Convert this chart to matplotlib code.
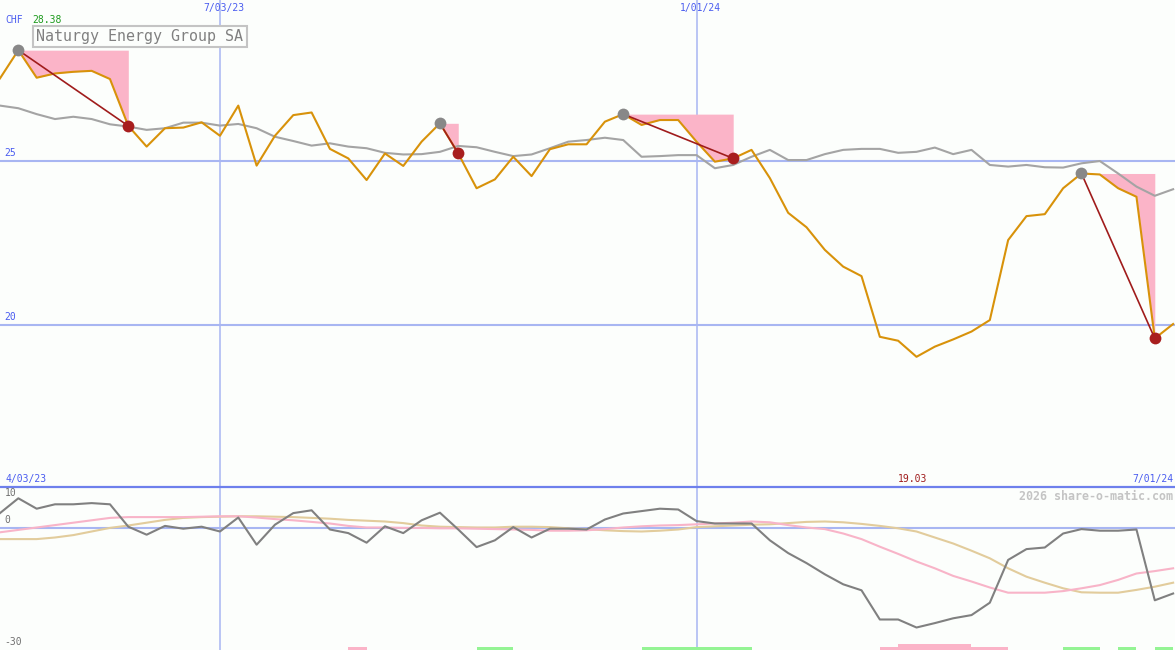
import numpy as np
import matplotlib
matplotlib.use('Agg')
import matplotlib.pyplot as plt
from matplotlib.transforms import blended_transform_factory

# weekly closes (CHF) and moving average
price = [27.52, 28.38, 27.54, 27.67, 27.72, 27.75, 27.50, 26.07, 25.44, 26.00,
         26.02, 26.18, 25.77, 26.69, 24.86, 25.77, 26.40, 26.48, 25.37, 25.08,
         24.42, 25.23, 24.85, 25.59, 26.15, 25.23, 24.17, 24.44, 25.13, 24.54,
         25.36, 25.51, 25.51, 26.20, 26.43, 26.10, 26.25, 26.25, 25.59, 24.98,
         25.08, 25.34, 24.48, 23.42, 22.98, 22.29, 21.78, 21.49, 19.64, 19.52,
         19.03, 19.34, 19.56, 19.80, 20.15, 22.59, 23.32, 23.38, 24.17, 24.62,
         24.59, 24.17, 23.91, 19.59, 20.03]
avg = [26.69, 26.61, 26.43, 26.28, 26.35, 26.28, 26.12, 26.05, 25.95, 26.00,
       26.17, 26.17, 26.08, 26.13, 26.00, 25.74, 25.61, 25.47, 25.54, 25.44,
       25.39, 25.25, 25.20, 25.21, 25.28, 25.46, 25.42, 25.28, 25.15, 25.20,
       25.39, 25.59, 25.64, 25.71, 25.64, 25.13, 25.15, 25.18, 25.18, 24.78,
       24.88, 25.13, 25.34, 25.03, 25.03, 25.21, 25.34, 25.37, 25.37, 25.25,
       25.28, 25.41, 25.21, 25.34, 24.88, 24.83, 24.88, 24.81, 24.80, 24.93,
       25.00, 24.62, 24.22, 23.94, 24.14]

# lower panel oscillators
momentum = [3.6, 7.3, 4.7, 5.8, 5.8, 6.1, 5.8, 0.2, -1.8, 0.4,
            -0.3, 0.2, -1.0, 2.5, -4.3, 0.7, 3.6, 4.3, -0.5, -1.4,
            -3.8, 0.3, -1.4, 1.8, 3.7, -0.5, -4.9, -3.2, 0.1, -2.5,
            -0.3, -0.3, -0.5, 2.0, 3.5, 4.1, 4.7, 4.5, 1.6, 1.0,
            1.0, 1.0, -3.2, -6.4, -8.9, -11.7, -14.2, -15.7, -23.0, -23.0,
            -25.0, -23.9, -22.7, -21.9, -18.8, -8.1, -5.4, -5.0, -1.5, -0.4,
            -0.8, -0.8, -0.5, -18.2, -16.5]
osc_pink = [-1.2, -0.6, 0.0, 0.6, 1.2, 1.8, 2.4, 2.6, 2.6, 2.6,
            2.6, 2.7, 2.8, 2.8, 2.5, 2.1, 1.8, 1.4, 1.0, 0.4,
            0.0, 0.0, -0.1, -0.1, -0.2, -0.2, -0.3, -0.4, -0.5, -0.6,
            -0.8, -0.8, -0.7, -0.4, 0.0, 0.3, 0.5, 0.6, 0.8, 1.0,
            1.2, 1.5, 1.3, 0.6, 0.0, -0.4, -1.5, -2.9, -4.8, -6.6,
            -8.5, -10.2, -12.1, -13.5, -15.0, -16.3, -16.3, -16.3, -15.9, -15.2,
            -14.4, -13.1, -11.5, -10.9, -10.2]
osc_tan = [-2.9, -2.9, -2.9, -2.5, -1.9, -1.0, -0.1, 0.5, 1.2, 1.9,
           2.4, 2.6, 2.7, 2.8, 2.8, 2.7, 2.6, 2.4, 2.2, 1.9,
           1.7, 1.5, 1.1, 0.5, 0.2, 0.1, 0.0, 0.0, 0.2, 0.2,
           0.1, -0.2, -0.4, -0.7, -0.9, -1.0, -0.8, -0.5, 0.1, 0.3,
           0.5, 0.7, 0.8, 1.1, 1.4, 1.5, 1.3, 0.9, 0.4, -0.2,
           -1.0, -2.5, -4.0, -5.8, -7.7, -10.2, -12.3, -13.8, -15.2, -16.2,
           -16.3, -16.3, -15.6, -14.8, -13.8]

# drawdown episodes (week index of peak and of trough)
peak_idx = [1, 24, 34, 59]
trough_idx = [7, 25, 40, 63]

# signal strip: +1 buy, -1 / -2 sell
signal_weeks = [19, 26, 27, 35, 36, 37, 38, 39, 40, 48, 49, 50, 51, 52, 53, 54,
                58, 59, 61, 63]
signal_values = [-1, 1, 1, 1, 1, 1, 1, 1, 1, -1, -2, -2, -2, -2, -1, -1,
                 1, 1, 1, 1]

date_weeks = [12, 38]
date_labels = ['7/03/23', '1/01/24']
start_label = '4/03/23'
end_label = '7/01/24'
title = 'Naturgy Energy Group SA'
currency = 'CHF'

bg = '#fcfefc'
grid_c = '#a8b6f2'
blue_txt = '#4a5cf0'
mono = 'DejaVu Sans Mono'
plt.rcParams['font.family'] = mono

W, H = 1175, 650
top_h = 487
fig = plt.figure(figsize=(W / 100, H / 100), dpi=100, facecolor=bg)
ax = fig.add_axes([0, 1 - top_h / H, 1, top_h / H], facecolor=bg)
ax2 = fig.add_axes([0, 0, 1, 1 - top_h / H], facecolor=bg)

x = np.arange(len(price))
xmax = W / 18.33
p = np.array(price)

for a in (ax, ax2):
    a.set_xlim(0, xmax)
    a.set_xticks([])
    a.set_yticks([])
    for s in a.spines.values():
        s.set_visible(False)
    for w in date_weeks:
        a.axvline(w, color=grid_c, lw=1.1, zorder=1)

# --- top panel
ax.set_ylim(15.06, 29.91)
for lvl in (25, 20):
    ax.axhline(lvl, color=grid_c, lw=1.5, zorder=1)
    ax.text(0.004, lvl + 0.08, str(lvl), transform=blended_transform_factory(ax.transAxes, ax.transData),
            color=blue_txt, fontsize=7, va='bottom', ha='left')

for pk, tr in zip(peak_idx, trough_idx):
    ax.fill_between(x[pk:tr + 1], p[pk:tr + 1], p[pk], color='#fbb4c8', lw=0, zorder=2)

ax.plot(x, avg, color='#a4a4a4', lw=1.5, zorder=3)
ax.plot(x, price, color='#d8920a', lw=1.5, zorder=4)

for pk, tr in zip(peak_idx, trough_idx):
    ax.plot([pk, tr], [p[pk], p[tr]], color='#a01c1c', lw=1.2, zorder=5)
    ax.plot(pk, p[pk], 'o', color='#888888', ms=8.5, mew=0, zorder=6)
    ax.plot(tr, p[tr], 'o', color='#a81e1e', ms=8.5, mew=0, zorder=6)

tr_top = blended_transform_factory(ax.transData, ax.transAxes)
for w, lab in zip(date_weeks, date_labels):
    ax.text(w + 0.2, 1 - 8 / top_h, lab, transform=tr_top, color=blue_txt,
            fontsize=7, ha='center', va='center')

fig.text(5 / W, 1 - 20 / H, currency, color=blue_txt, fontsize=7, ha='left', va='center')
fig.text(32 / W, 1 - 20 / H, f'{p.max():.2f}', color='#1c9a1c', fontsize=7, ha='left', va='center')
fig.text(140 / W, 1 - 36.5 / H, title, color='#808080', fontsize=10.8, ha='center', va='center',
         bbox=dict(boxstyle='square,pad=0.22', facecolor=bg, edgecolor='#c4c4c4', lw=1.5))

# --- bottom panel
ax2.set_ylim(-30.625, 10.125)
ax2.axhline(0, color=grid_c, lw=1.5, zorder=1)
ax2.spines['top'].set_visible(True)
ax2.spines['top'].set_color('#6e80ec')
ax2.spines['top'].set_linewidth(1.6)

ax2.plot(x, osc_tan, color='#e2cc9c', lw=1.5, zorder=2)
ax2.plot(x, osc_pink, color='#f8b4c8', lw=1.5, zorder=3)
ax2.plot(x, momentum, color='#808080', lw=1.5, zorder=4)

sig = np.array(signal_values)
ax2.bar(signal_weeks, np.abs(sig) * 0.75, bottom=-30.625, width=1, align='edge',
        color=np.where(sig > 0, '#94f494', '#fbb4c8'), lw=0, zorder=2)

tr_low = blended_transform_factory(ax2.transAxes, ax2.transData)
ax2.text(0.004, 10, '10', transform=tr_low, color='#707070', fontsize=7, va='top')
ax2.text(0.004, 0.6, '0', transform=tr_low, color='#707070', fontsize=7, va='bottom')
ax2.text(0.004, -29.8, '-30', transform=tr_low, color='#707070', fontsize=7, va='bottom')

fig.text(5 / W, 1 - 479 / H, start_label, color=blue_txt, fontsize=7, ha='left', va='center')
fig.text(1173 / W, 1 - 479 / H, end_label, color=blue_txt, fontsize=7, ha='right', va='center')
low_i = int(np.argmin(p))
fig.text(low_i * 18.33 / W - 4 / W, 1 - 479 / H, f'{p.min():.2f}', color='#a01c1c', fontsize=7,
         ha='center', va='center')
fig.text(1173 / W, 1 - 496 / H, '2026 share-o-matic.com', color='#c4c4c4', fontsize=8.4,
         fontweight='bold', ha='right', va='center')

fig.savefig('out.png', dpi=100, facecolor=bg)
